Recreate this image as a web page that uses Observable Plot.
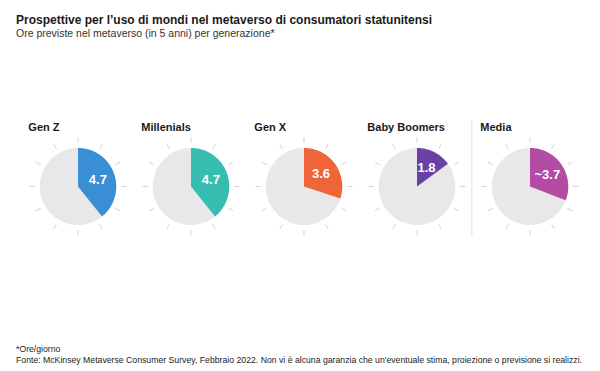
<!DOCTYPE html>
<html>
<head>
<meta charset="utf-8">
<script src="https://cdn.jsdelivr.net/npm/d3@7"></script>
<script src="https://cdn.jsdelivr.net/npm/@observablehq/plot@0.6"></script>
<style>
  body { margin: 0; background: #fff; font-family: "Liberation Sans", Arial, Helvetica, sans-serif; }
  #wrap { position: relative; width: 600px; height: 371px; overflow: hidden; }
  #title { position: absolute; left: 16px; top: 13px; font-size: 12px; line-height: 14px; font-weight: bold; color: #1a1a1a; white-space: nowrap; }
  #subtitle { position: absolute; left: 16px; top: 27px; font-size: 10.5px; line-height: 13px; color: #333; white-space: nowrap; }
  #chart { position: absolute; left: 0; top: 50px; }
  #note { position: absolute; left: 16px; top: 344px; font-size: 8.7px; line-height: 11px; color: #222; white-space: nowrap; }
  #source { position: absolute; left: 16px; top: 355px; font-size: 8.7px; line-height: 11px; color: #222; white-space: nowrap; }
</style>
</head>
<body>
<div id="wrap">
  <div id="title">Prospettive per l’uso di mondi nel metaverso di consumatori statunitensi</div>
  <div id="subtitle">Ore previste nel metaverso (in 5 anni) per generazione*</div>
  <div id="chart"></div>
  <div id="note">*Ore/giorno</div>
  <div id="source">Fonte: McKinsey Metaverse Consumer Survey, Febbraio 2022. Non vi è alcuna garanzia che un'eventuale stima, proiezione o previsione si realizzi.</div>
</div>
<script>
// ---- data ----
const generations = ["Gen Z", "Millenials", "Gen X", "Baby Boomers", "Media"];
const hours = [4.7, 4.7, 3.6, 1.8, 3.7];
const valueLabels = ["4.7", "4.7", "3.6", "1.8", "~3.7"];
const colors = ["#3a8ed4", "#37bdb0", "#f0643a", "#6b40a6", "#b44ba4"];
const clockHours = 12;            // dial is a 12-hour clock
const separatorBefore = "Media";

// ---- layout ----
const W = 600, H = 290;
const PX = 38.5;                  // pixels per unit (dial radius = 1)
const centerX0 = 75.6, step = 113.75;
const centerY = 136;              // dial center within svg
const marginLeft = centerX0 - step / 2;
const marginRight = W - marginLeft - step * generations.length;
const halfX = step / 2 / PX;

const rows = generations.map((g, i) => ({g, hours: hours[i], label: valueLabels[i], color: colors[i]}));
const toXY = (r, hrs) => {
  const a = hrs / clockHours * 2 * Math.PI;
  return {x: r * Math.sin(a), y: r * Math.cos(a)};
};

// background dial polygons
const dial = rows.flatMap(d => d3.range(0, 361).map(k => ({g: d.g, ...toXY(1, k / 360 * clockHours)})));
// wedges
const wedges = rows.flatMap(d => {
  const n = Math.max(2, Math.ceil(d.hours / clockHours * 360));
  const pts = [{g: d.g, color: d.color, x: 0, y: 0}];
  for (let k = 0; k <= n; k++) pts.push({g: d.g, color: d.color, ...toXY(1, d.hours * k / n)});
  pts.push({g: d.g, color: d.color, x: 0, y: 0});
  return pts;
});
// clock ticks
const ticks = rows.flatMap(d => d3.range(clockHours).map(h => {
  const a = toXY(1.13, h), b = toXY(1.27, h);
  return {g: d.g, x1: a.x, y1: a.y, x2: b.x, y2: b.y};
}));
// labels
const labelPos = rows.map(d => ({...d, ...toXY(0.55, d.hours / 2)}));

const plot = Plot.plot({
  width: W,
  height: H,
  marginLeft, marginRight, marginTop: 0, marginBottom: 0,
  fx: {domain: generations, padding: 0, axis: null},
  x: {domain: [-halfX, halfX], axis: null},
  y: {domain: [-(H - centerY) / PX, centerY / PX], axis: null},
  style: {fontFamily: "'Liberation Sans', Arial, Helvetica, sans-serif", background: "transparent"},
  marks: [
    Plot.ruleX([separatorBefore], {fx: d => d, x: -58.5 / PX, y1: 66 / PX, y2: -49 / PX, stroke: "#dcdcdc", strokeWidth: 1}),
    Plot.link(ticks, {fx: "g", x1: "x1", y1: "y1", x2: "x2", y2: "y2", stroke: "#d2d2d2", strokeWidth: 1}),
    Plot.line(dial, {fx: "g", x: "x", y: "y", z: "g", fill: "#e8e8ea", stroke: "none"}),
    Plot.line(wedges, {fx: "g", x: "x", y: "y", z: "g", fill: d => d.color, stroke: "none"}),
    Plot.text(labelPos, {fx: "g", x: "x", y: "y", text: "label", fill: "white", fontWeight: "bold", fontSize: 13}),
    Plot.text(rows, {fx: "g", x: () => -50 / PX, y: () => 59.5 / PX, text: "g", textAnchor: "start", fontWeight: "bold", fontSize: 11, fill: "#1a1a1a"})
  ]
});
document.getElementById("chart").appendChild(plot);
</script>
</body>
</html>
